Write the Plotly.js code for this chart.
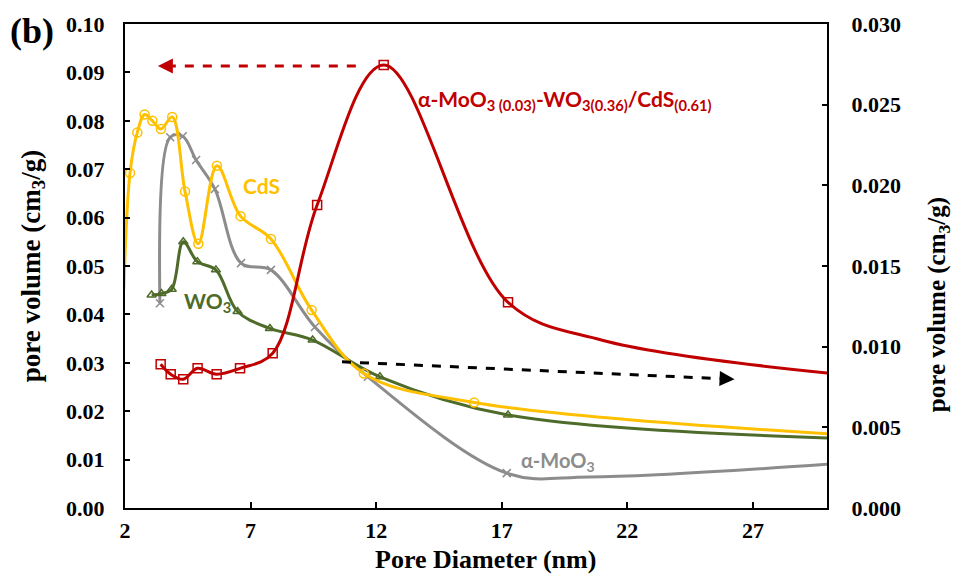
<!DOCTYPE html>
<html>
<head>
<meta charset="utf-8">
<script src="https://cdn.plot.ly/plotly-3.0.1.min.js"></script>
<style>html,body{margin:0;padding:0;background:#fff;}#chart{width:953px;height:577px;}</style>
</head>
<body>
<div id="chart"></div>
<script>
// ---- Data ----
// CdS (left axis), marked points
const cdsX = [2.20, 2.49, 2.78, 3.09, 3.43, 3.88, 4.39, 4.92, 5.66, 6.60, 7.81, 9.43, 11.51, 15.90];
const cdsY = [0.0692, 0.0776, 0.0813, 0.0800, 0.0783, 0.0808, 0.0654, 0.0546, 0.0707, 0.0603, 0.0556, 0.0409, 0.0278, 0.0218];
// CdS curve continues past the plot edges (unmarked)
const cdsExtraX = [1.95, 31];
const cdsExtraY = [0.0450, 0.0150];

// alpha-MoO3 (left axis)
const moX = [3.39, 3.80, 4.30, 4.83, 5.58, 6.62, 7.81, 9.56, 11.67, 17.20];
const moY = [0.0423, 0.0766, 0.0768, 0.0719, 0.0659, 0.0506, 0.0492, 0.0374, 0.0271, 0.0072];
const moExtraX = [20.5, 31];
const moExtraY = [0.0064, 0.0094];

// WO3 (left axis)
const woX = [3.06, 3.45, 3.86, 4.32, 4.88, 5.62, 6.48, 7.77, 9.47, 12.15, 17.25];
const woY = [0.0440, 0.0443, 0.0452, 0.0550, 0.0509, 0.0492, 0.0406, 0.0371, 0.0347, 0.0271, 0.0192];
const woExtraX = [31];
const woExtraY = [0.0143];

// alpha-MoO3(0.03)-WO3(0.36)/CdS(0.61) (right axis)
const mixX = [3.42, 3.82, 4.32, 4.89, 5.65, 6.58, 7.88, 9.65, 12.30, 17.25];
const mixY = [0.00891, 0.00829, 0.00798, 0.00866, 0.00829, 0.00866, 0.00959, 0.01878, 0.02746, 0.01275];
const mixExtraX = [21.0, 31];
const mixExtraY = [0.0104, 0.0082];

const xTicks = [2, 7, 12, 17, 22, 27];

// ---- helpers ----
function merge(ax, ay, bx, by) {
  const pts = ax.map((v, i) => [v, ay[i]]).concat(bx.map((v, i) => [v, by[i]]));
  pts.sort((a, b) => a[0] - b[0]);
  return {x: pts.map(p => p[0]), y: pts.map(p => p[1])};
}

const C_CDS = '#FFC000', C_MO = '#8C8C8C', C_WO = '#4E6B2A', C_MIX = '#C00000';
const LW = 3;

function series(x, y, ex, ey, color, symbol, size, yaxis) {
  const m = merge(x, y, ex, ey);
  return [
    {x: m.x, y: m.y, yaxis: yaxis, mode: 'lines', type: 'scatter',
     line: {color: color, width: LW, shape: 'spline', smoothing: 1}, hoverinfo: 'skip', showlegend: false},
    {x: x, y: y, yaxis: yaxis, mode: 'markers', type: 'scatter',
     marker: {symbol: symbol, size: size, color: color, line: {color: color, width: 1.5}}, showlegend: false}
  ];
}

const traces = []
  .concat(series(mixX, mixY, mixExtraX, mixExtraY, C_MIX, 'square-open', 9, 'y2'))
  .concat(series(moX, moY, moExtraX, moExtraY, C_MO, 'x-thin-open', 8, 'y'))
  .concat(series(woX, woY, woExtraX, woExtraY, C_WO, 'triangle-up-open', 8, 'y'))
  .concat(series(cdsX, cdsY, cdsExtraX, cdsExtraY, C_CDS, 'circle-open', 9, 'y'));

const SERIF = 'Liberation Serif, Times New Roman, serif';
const tickFont = {family: SERIF, size: 22, color: '#000', weight: 'bold'};
const xTitleFont = {family: SERIF, size: 26, color: '#000', weight: 'bold'};
const yTitleFont = {family: SERIF, size: 27, color: '#000', weight: 'bold'};
const labFont = (c, s) => ({family: 'Lato, Open Sans, sans-serif', size: s, color: c, weight: 'bold'});

// arrow geometry (data coordinates)
const redArrow = {x0: 11.19, x1: 3.31, y: 0.0913};
const blackArrow = {x0: 10.64, y0: 0.0302, x1: 26.27, y1: 0.0266};

const layout = {
  width: 953, height: 577,
  margin: {l: 125, r: 126, t: 24, b: 69},
  paper_bgcolor: '#fff', plot_bgcolor: '#fff',
  showlegend: false,
  xaxis: {
    range: [2, 29.95], tickvals: xTicks, ticktext: xTicks.map(String),
    ticks: 'inside', ticklen: 6, tickwidth: 2, tickcolor: '#000',
    showline: true, linecolor: '#000', linewidth: 2, mirror: true,
    showgrid: false, zeroline: false, tickfont: tickFont, ticklabelstandoff: 2
  },
  yaxis: {
    range: [0, 0.1], dtick: 0.01, tickformat: '.2f',
    ticks: 'inside', ticklen: 5, tickwidth: 2, tickcolor: '#000',
    showline: true, linecolor: '#000', linewidth: 2,
    showgrid: false, zeroline: false, tickfont: tickFont, ticklabelstandoff: 14,
    title: {text: 'pore volume (cm<sub>3</sub>/g)', font: yTitleFont, standoff: 18}
  },
  yaxis2: {
    overlaying: 'y', side: 'right', range: [0, 0.03], dtick: 0.005, tickformat: '.3f',
    ticks: 'inside', ticklen: 5, tickwidth: 2, tickcolor: '#000',
    showline: true, linecolor: '#000', linewidth: 2,
    showgrid: false, zeroline: false, tickfont: tickFont, ticklabelstandoff: 18
  },
  shapes: [
    {type: 'line', xref: 'x', yref: 'y', x0: redArrow.x0, x1: redArrow.x1 + 0.5, y0: redArrow.y, y1: redArrow.y,
     line: {color: C_MIX, width: 3, dash: 'dash'}},
    {type: 'line', xref: 'x', yref: 'y', x0: blackArrow.x0, y0: blackArrow.y0,
     x1: blackArrow.x1 - 0.5, y1: blackArrow.y1 + (blackArrow.y0 - blackArrow.y1) * 0.5 / (blackArrow.x1 - blackArrow.x0),
     line: {color: '#000', width: 3, dash: 'dash'}}
  ],
  annotations: [
    {xref: 'x', yref: 'y', axref: 'x', ayref: 'y', x: redArrow.x1, y: redArrow.y, ax: redArrow.x1 + 0.6, ay: redArrow.y,
     text: '', showarrow: true, arrowhead: 2, arrowsize: 1, arrowwidth: 3, arrowcolor: C_MIX},
    {xref: 'x', yref: 'y', axref: 'x', ayref: 'y', x: blackArrow.x1, y: blackArrow.y1,
     ax: blackArrow.x1 - 0.6, ay: blackArrow.y1 + (blackArrow.y0 - blackArrow.y1) * 0.6 / (blackArrow.x1 - blackArrow.x0),
     text: '', showarrow: true, arrowhead: 2, arrowsize: 1, arrowwidth: 3, arrowcolor: '#000'},
    {xref: 'paper', yref: 'paper', x: -0.132, y: 0.985, xanchor: 'center', yanchor: 'middle', showarrow: false,
     text: '(b)', font: {family: SERIF, size: 36, color: '#000', weight: 'bold'}},
    {xref: 'paper', yref: 'paper', x: 0.513, y: -0.141, xanchor: 'center', yanchor: 'bottom', showarrow: false,
     text: 'Pore Diameter (nm)', font: xTitleFont},
    {xref: 'paper', yref: 'paper', x: 1.158, y: 0.421, xanchor: 'center', yanchor: 'middle', showarrow: false,
     textangle: -90, text: 'pore volume (cm<sub>3</sub>/g)', font: {family: SERIF, size: 25, color: '#000', weight: 'bold'}},
    {xref: 'x', yref: 'y', x: 7.45, y: 0.0667, showarrow: false, text: 'CdS', font: labFont(C_CDS, 21)},
    {xref: 'x', yref: 'y', x: 5.30, y: 0.0426, showarrow: false, text: 'WO<sub>3</sub>', font: labFont(C_WO, 21)},
    {xref: 'x', yref: 'y', x: 19.23, y: 0.0097, showarrow: false, text: '\u03B1-MoO<sub>3</sub>', font: labFont(C_MO, 20)},
    {xref: 'x', yref: 'y', x: 19.51, y: 0.0843, showarrow: false,
     text: '\u03B1-MoO<sub>3 (0.03)</sub>-WO<sub>3(0.36)</sub>/CdS<sub>(0.61)</sub>', font: labFont(C_MIX, 21)}
  ]
};

Plotly.newPlot('chart', traces, layout, {displayModeBar: false, staticPlot: true});
</script>
</body>
</html>
